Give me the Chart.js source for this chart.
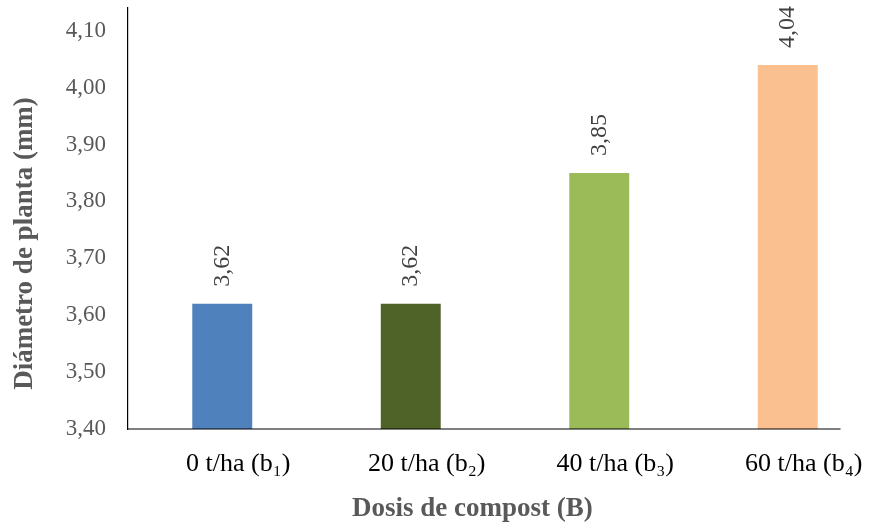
<!DOCTYPE html>
<html>
<head>
<meta charset="utf-8">
<script src="https://cdn.jsdelivr.net/npm/chart.js@4.4.0/dist/chart.umd.min.js"></script>
<style>
    html, body { margin: 0; padding: 0; background: #fff; overflow: hidden; }
    #wrap { width: 872px; height: 527px; overflow: hidden; position: relative; }
    #box { width: 890px; height: 527px; position: absolute; left: 0; top: 0; }
</style>
</head>
<body>
<div id="wrap"><div id="box"><canvas id="chart"></canvas></div></div>
<script>
// 数据
const categories = ['0 t/ha (b\u2081)', '20 t/ha (b\u2082)', '40 t/ha (b\u2083)', '60 t/ha (b\u2084)'];
const diametro = [3.62, 3.62, 3.85, 4.04];
const barColors = ['#4f81bd', '#4f6228', '#9bbb59', '#fac090'];
const yTicks = [3.4, 3.5, 3.6, 3.7, 3.8, 3.9, 4.0, 4.1];
const xTitle = 'Dosis de compost (B)';
const yTitle = 'Diámetro de planta (mm)';

const SERIF = '"Liberation Serif", "Times New Roman", "DejaVu Serif", serif';
const fmt = v => v.toFixed(2).replace('.', ',');

// 柱顶数值标签（竖排）
const valueLabels = {
    id: 'valueLabels',
    afterDatasetsDraw(chart) {
        const ctx = chart.ctx;
        const meta = chart.getDatasetMeta(0);
        ctx.save();
        ctx.font = '24px ' + SERIF;
        ctx.fillStyle = '#404040';
        ctx.textAlign = 'left';
        ctx.textBaseline = 'middle';
        meta.data.forEach((bar, i) => {
            ctx.save();
            ctx.translate(bar.x, bar.y - 17);
            ctx.rotate(-Math.PI / 2);
            ctx.fillText(fmt(diametro[i]), 0, 0);
            ctx.restore();
        });
        ctx.restore();
    }
};

// X 轴线（比绘图区短一点）+ 坐标轴标题
const axisDecor = {
    id: 'axisDecor',
    afterDraw(chart) {
        const x = chart.scales.x;
        const area = chart.chartArea;
        const ctx = chart.ctx;
        const end = x.getPixelForValue(categories.length - 1) + x.width / categories.length * 0.28;
        ctx.save();
        ctx.strokeStyle = '#000';
        ctx.lineWidth = 1.2;
        ctx.beginPath();
        ctx.moveTo(x.left, x.top);
        ctx.lineTo(end, x.top);
        ctx.stroke();

        ctx.fillStyle = '#595959';
        ctx.font = 'bold 27px ' + SERIF;
        ctx.textAlign = 'center';
        ctx.textBaseline = 'middle';
        ctx.fillText(xTitle, (x.left + end) / 2 - 12, area.bottom + 80);

        ctx.translate(25, (area.top + area.bottom) / 2 + 25);
        ctx.rotate(-Math.PI / 2);
        ctx.fillText(yTitle, 0, 0);
        ctx.restore();
    }
};

new Chart(document.getElementById('chart'), {
    type: 'bar',
    data: {
        labels: categories,
        datasets: [{
            data: diametro,
            backgroundColor: barColors,
            borderWidth: 0,
            barPercentage: 0.318,
            categoryPercentage: 1
        }]
    },
    options: {
        responsive: true,
        maintainAspectRatio: false,
        animation: false,
        layout: { padding: { top: 8, right: 8, left: 0, bottom: 0 } },
        plugins: { legend: { display: false }, tooltip: { enabled: false } },
        scales: {
            x: {
                grid: { display: false, drawTicks: false },
                border: { display: false },
                ticks: {
                    color: '#000',
                    font: { family: SERIF, size: 26 },
                    padding: 20,
                    labelOffset: 16,
                    maxRotation: 0,
                    autoSkip: false
                },
                afterFit(scale) {
                    scale.height = 98;
                    scale.paddingLeft = 0;
                    scale.paddingRight = 0;
                }
            },
            y: {
                min: 3.4,
                max: 4.14,
                grid: { display: false, drawTicks: false },
                border: { display: true, color: '#000', width: 1.2 },
                afterBuildTicks(scale) {
                    scale.ticks = yTicks.map(v => ({ value: v }));
                },
                ticks: {
                    color: '#595959',
                    font: { family: SERIF, size: 23 },
                    padding: 22,
                    callback: v => fmt(v)
                },
                afterFit(scale) {
                    scale.width = 128;
                    scale.paddingTop = 0;
                    scale.paddingBottom = 0;
                }
            }
        }
    },
    plugins: [valueLabels, axisDecor]
});
</script>
</body>
</html>
